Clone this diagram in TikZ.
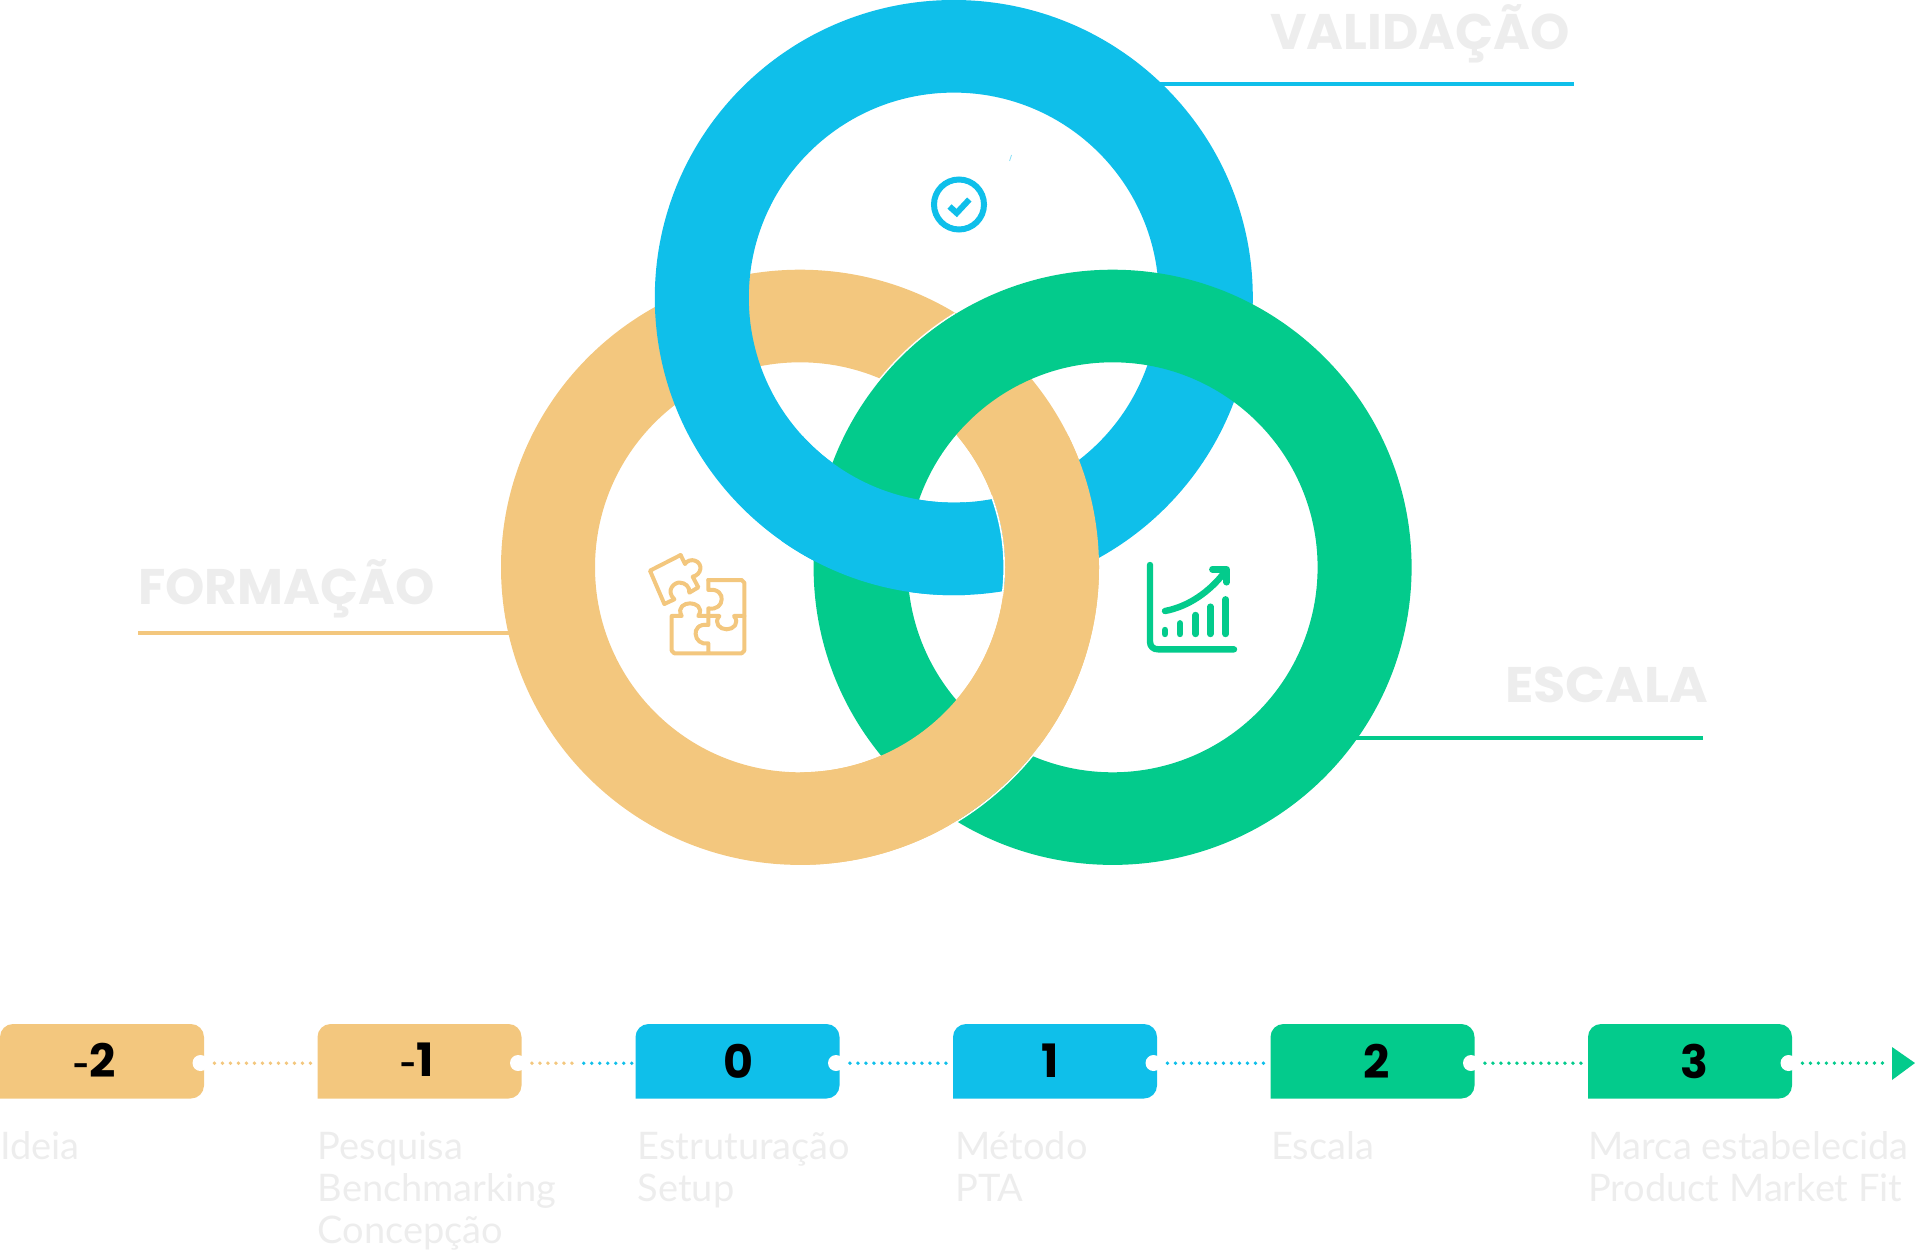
\documentclass[tikz,border=0pt]{standalone}
\usepackage{fontspec}
\usetikzlibrary{calc}
\setmainfont{Poppins}
\newfontfamily\lightf{Lato}
\newfontfamily\headf[BoldFont={Poppins Bold}]{Poppins}
\definecolor{cOrange}{HTML}{F3C77E}
\definecolor{cBlue}{HTML}{0FBFEA}
\definecolor{cGreen}{HTML}{03CB8C}
\definecolor{cGrey}{HTML}{EDEDED}
\tikzset{
  head/.style={anchor=base west,inner sep=0pt,text=cGrey,font=\headf\bfseries\fontsize{50}{50}\selectfont},
  body/.style={anchor=base west,inner sep=0pt,text=cGrey,font=\lightf\fontsize{38}{42}\selectfont,align=left},
  num/.style={inner sep=0pt,text=black,font=\headf\bfseries\fontsize{46}{46}\selectfont},
  lead/.style={line width=4pt},
  conn/.style={line width=3.8pt,line cap=round,dash pattern=on 0pt off 8pt},
  icon/.style={line width=4pt,line cap=round,line join=round},
  ticketanchor/.style={minimum width=204pt,minimum height=75pt,inner sep=0pt,anchor=north west},
  white gap/.style={draw=white,line width=1.6pt}
}
\newcommand{\ringat}[3]{\fill[#2,even odd rule] #1 ellipse[x radius=299,y radius=#3] #1 circle[radius=205];}
\newcommand{\RO}{\ringat{(800,567.3)}{cOrange}{297.6}}
\newcommand{\RB}{\ringat{(953.8,297.6)}{cBlue}{297.6}}
\newcommand{\RG}{\ringat{(1112.6,567.3)}{cGreen}{297.6}}
\newcommand{\smallminus}{{\fontsize{28}{28}\selectfont\raisebox{2pt}{-}}}
% ticket: name, x, colour, number, number x, number y
\newcommand{\ticket}[6]{%
  \fill[#3,rounded corners=13pt] (#2,1098.5) [sharp corners] -- (#2,1098.5) [rounded corners=13pt] -- (#2,1024) -- (#2+204,1024) -- (#2+204,1098.5) [sharp corners] -- cycle;
  \fill[white] (#2+200.5,1063) circle[radius=8];
  \node[ticketanchor] (#1) at (#2,1024) {};
  \node[num] (#1n) at (#5,#6) {#4};
}
\begin{document}
\begin{tikzpicture}[x=1pt,y=-1pt]
\useasboundingbox (0,0) rectangle (1915,1250);
% leader lines
\coordinate (vA) at (1160,84); \coordinate (vB) at (1574,84);
\coordinate (fA) at (138,633); \coordinate (fB) at (510,633);
\coordinate (eA) at (1350,738); \coordinate (eB) at (1703,738);
\draw[lead,cBlue] (vA) -- (vB);
\draw[lead,cOrange] (fA) -- (fB);
\draw[lead,cGreen] (eA) -- (eB);
% interlaced rings
\RO
\RB
\begin{scope}
  \clip (875,300) rectangle (955,385);
  \draw[white gap] (1112.6,567.3) ellipse[x radius=299.8,y radius=298.4];
\end{scope}
\RG
\begin{scope}
  \clip (781,436) rectangle (965,605);
  \RB
\end{scope}
\begin{scope}
  \clip (950,745) rectangle (1040,830);
  \draw[white gap] (800,567.3) ellipse[x radius=299.8,y radius=298.4];
\end{scope}
\begin{scope}
  \clip (800,436) rectangle (1120,880);
  \RO
\end{scope}
\begin{scope}
  \clip (975,495) rectangle (1010,595);
  \draw[white gap] (800,567.3) circle[radius=204.2];
\end{scope}
% headings
\node[head] (hV) at (1270,49) {VALIDAÇÃO};
\node[head] (hF) at (138,604.5) {FORMAÇÃO};
\node[head,xscale=1.05] (hE) at (1505,702) {ESCALA};
% tick artefact
\draw[cBlue!50,line width=0.8pt] (1009.5,161) -- (1011.5,155);
% check icon
\draw[cBlue,line width=6pt] (959,204.5) circle[radius=25];
\draw[cBlue,line width=6pt] (949.5,206.5) -- (956.7,213) -- (969.3,199.5);
% puzzle icon
\begin{scope}[shift={(630,540)},x=0.3333pt,y=-0.3333pt,cOrange,icon]
  \draw (152,45) -- (60,92) -- (103,192) -- (133,178) .. controls (105,150) and (135,125) .. (150,128) .. controls (165,128) and (180,140) .. (178,158) -- (205,142) -- (188,110) .. controls (215,105) and (220,70) .. (195,62) .. controls (185,58) and (170,62) .. (165,72) -- cycle;
  \draw (235,120) -- (335,120) -- (343,128) -- (343,332) -- (335,340) -- (133,340) -- (125,332) -- (125,228) -- (155,228) .. controls (140,200) and (165,190) .. (180,190) .. controls (195,190) and (222,200) .. (205,228) -- (235,228) -- (235,255) .. controls (205,250) and (195,270) .. (197,282) .. controls (197,300) and (215,315) .. (235,310) -- (235,340);
  \draw (235,120) -- (235,150) .. controls (265,145) and (277,165) .. (275,178) .. controls (275,195) and (260,210) .. (235,205) -- (235,228);
  \draw (235,228) -- (268,228) .. controls (250,250) and (270,268) .. (290,268) .. controls (310,268) and (330,250) .. (312,228) -- (343,228);
\end{scope}
% chart icon
\begin{scope}[shift={(1130,550)},x=0.3333pt,y=-0.3333pt,cGreen,line cap=round,line join=round]
  \draw[line width=6.4pt] (60,45) -- (60,275) .. controls (60,290) and (70,298) .. (85,298) -- (312,298);
  \draw[line width=6.4pt] (105,240) -- (105,252);
  \draw[line width=6.4pt] (150,220) -- (150,252);
  \draw[line width=6.4pt] (197,195) -- (197,252);
  \draw[line width=6.4pt] (241,170) -- (241,252);
  \draw[line width=6.4pt] (287,148) -- (287,252);
  \draw[line width=6.4pt] (105,183) .. controls (175,170) and (240,125) .. (285,65);
  \draw[line width=6.4pt] (247,58) -- (290,58) -- (290,97);
\end{scope}
% tickets
\ticket{t1}{0}{cOrange}{\smallminus 2}{94.5}{1060}
\ticket{t2}{317.5}{cOrange}{\smallminus 1}{417}{1060}
\ticket{t3}{635.5}{cBlue}{0}{738}{1061}
\ticket{t4}{953}{cBlue}{1}{1050}{1061}
\ticket{t5}{1270.5}{cGreen}{2}{1376.5}{1061}
\ticket{t6}{1588}{cGreen}{3}{1694.5}{1061}
% connectors
\coordinate (mid) at ($(t2.east)!0.5!(t3.west)$);
\coordinate (endp) at (1890,1063);
\fill[cGreen] (1892,1047) -- (1915,1063) -- (1892,1080) -- cycle;
\tikzset{port/.style={xshift=#1,yshift=-1.5pt}}
\draw[conn,cOrange] ([port=10pt]t1.east) -- ([port=-1pt]t2.west);
\draw[conn,cOrange] ([port=10pt]t2.east) -- ([port=0pt]mid);
\draw[conn,cBlue] ([port=5pt]mid) -- ([port=-1pt]t3.west);
\draw[conn,cBlue] ([port=10pt]t3.east) -- ([port=-1pt]t4.west);
\draw[conn,cBlue] ([port=10pt]t4.east) -- ([port=-1pt]t5.west);
\draw[conn,cGreen] ([port=10pt]t5.east) -- ([port=-1pt]t6.west);
\draw[conn,cGreen] ([port=10pt]t6.east) -- (endp);
% captions (anchored on the baseline of their last line)
\node[body] (c1) at (0,1159) {Ideia};
\node[body] (c2) at (317.5,1243) {Pesquisa\\Benchmarking\\Concepção};
\node[body] (c3) at (637.5,1201) {Estruturação\\Setup};
\node[body] (c4) at (955,1201) {Método\\PTA};
\node[body] (c5) at (1271,1159) {Escala};
\node[body] (c6) at (1588,1201) {Marca estabelecida\\Product Market Fit};
\end{tikzpicture}
\end{document}
